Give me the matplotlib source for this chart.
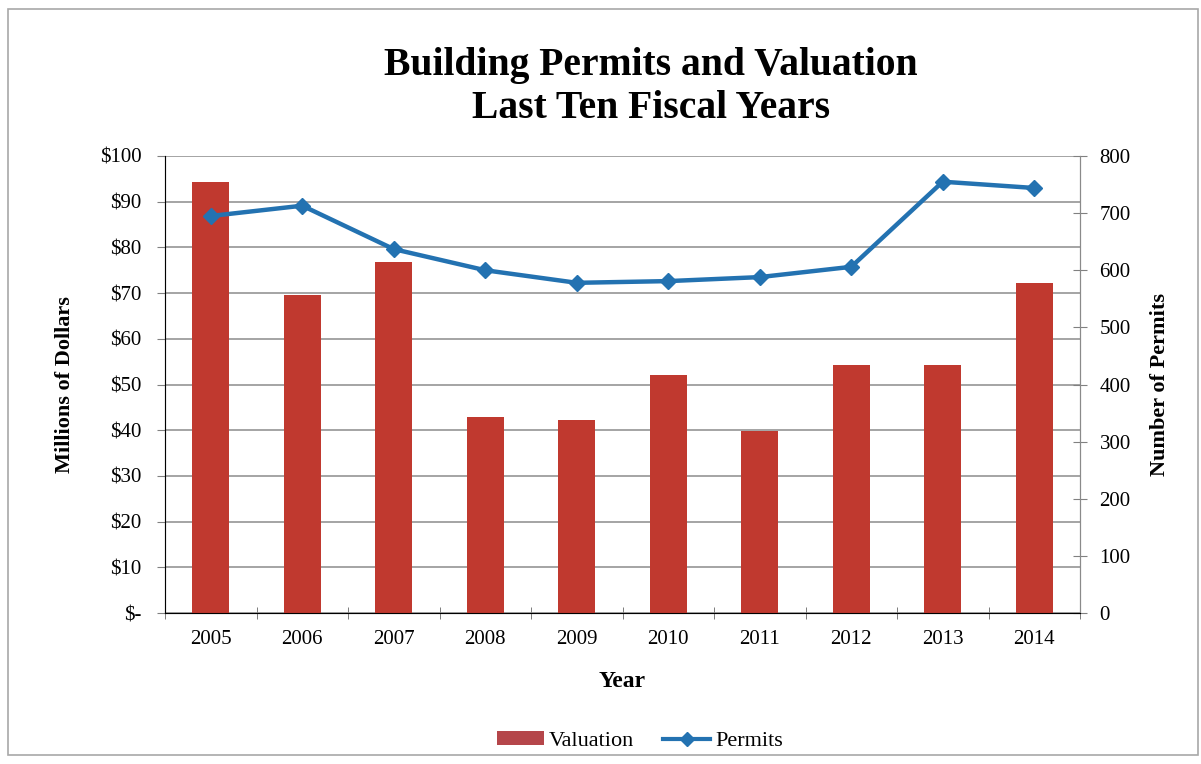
import matplotlib
matplotlib.use("Agg")
import matplotlib.pyplot as plt
from matplotlib.patches import Rectangle
from matplotlib.lines import Line2D
from matplotlib.patches import Patch
import numpy as np

years = ["2005", "2006", "2007", "2008", "2009", "2010", "2011", "2012", "2013", "2014"]
valuation = [94.3, 69.6, 76.8, 42.9, 42.2, 52.1, 39.8, 54.3, 54.3, 72.2]   # millions of dollars
permits = [695, 713, 637, 600, 578, 581, 588, 606, 755, 744]               # number of permits
left_ticks = [0, 10, 20, 30, 40, 50, 60, 70, 80, 90, 100]
left_labels = ["$-", "$10", "$20", "$30", "$40", "$50", "$60", "$70", "$80", "$90", "$100"]
right_ticks = [0, 100, 200, 300, 400, 500, 600, 700, 800]

plt.rcParams["font.family"] = ["Liberation Serif", "DejaVu Serif"]

bar_color = "#C0392F"
line_color = "#2372B1"
grid_color = "#8C8C8C"
tick_size = 15
label_size = 16

fig = plt.figure(figsize=(12.01, 7.64), dpi=100)
fig.patch.set_facecolor("white")
fig.add_artist(Rectangle((8 / 1201, 9 / 764), 1190 / 1201, 746 / 764,
                         transform=fig.transFigure, fill=False,
                         edgecolor="#A8A8A8", linewidth=1.2))

ax = fig.add_axes([165 / 1201, 1 - 613 / 764, 915 / 1201, 457 / 764])
x = np.arange(len(years))
ax.bar(x, valuation, width=0.4, color=bar_color, zorder=3)
ax.set_xlim(-0.5, len(years) - 0.5)
ax.set_ylim(0, 100)
ax.set_yticks(left_ticks)
ax.set_yticklabels(left_labels, fontsize=tick_size)
ax.set_xticks(x)
ax.set_xticklabels(years, fontsize=tick_size)
ax.tick_params(axis="x", length=0, pad=12)
ax.set_xticks(np.arange(-0.5, len(years), 1.0), minor=True)
ax.tick_params(axis="x", which="minor", length=8, color="#666666", direction="inout")
ax.tick_params(axis="y", length=6, color="#808080", pad=11)
ax.grid(axis="y", color=grid_color, linewidth=1.1, zorder=0)
ax.spines["top"].set_visible(False)
for side in ["left", "bottom", "right"]:
    ax.spines[side].set_color("#8A8A8A")
ax.set_xlabel("Year", fontsize=label_size + 1, fontweight="bold", labelpad=16)
ax.set_ylabel("Millions of Dollars", fontsize=label_size, fontweight="bold", labelpad=18)

ax2 = ax.twinx()
ax2.plot(x, permits, color=line_color, linewidth=3.2, marker="D", markersize=8.5,
         zorder=4)
ax2.set_ylim(0, 800)
ax2.set_yticks(right_ticks)
ax2.tick_params(axis="y", labelsize=tick_size, length=10, color="#808080",
                direction="inout", pad=9)
ax2.spines["top"].set_visible(False)
ax2.spines["right"].set_color("#8A8A8A")
ax2.set_ylabel("Number of Permits", fontsize=label_size, fontweight="bold", labelpad=14)

fig.text(651 / 1201, 1 - 65 / 764, "Building Permits and Valuation",
         ha="center", va="center", fontsize=28.5, fontweight="bold")
fig.text(651 / 1201, 1 - 108 / 764, "Last Ten Fiscal Years",
         ha="center", va="center", fontsize=28.5, fontweight="bold")

handles = [Patch(facecolor="#B5464A", edgecolor="none"),
           Line2D([0], [0], color=line_color, linewidth=3, marker="D", markersize=7)]
fig.legend(handles, ["Valuation", "Permits"], loc="center",
           bbox_to_anchor=(640 / 1201, 1 - 741 / 764), ncol=2, frameon=False,
           fontsize=16, handlelength=2.1, handleheight=0.6, columnspacing=1.3,
           handletextpad=0.25)

fig.savefig("out.png", dpi=100)
